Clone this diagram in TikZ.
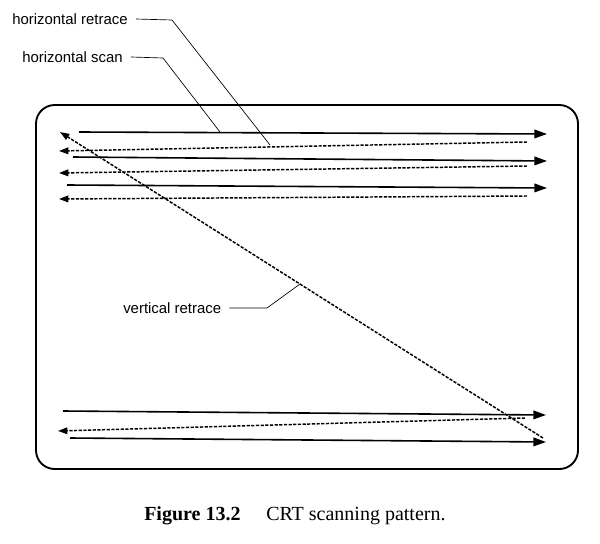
\documentclass[tikz,border=0pt]{standalone}
\usepackage{fontspec}
\setmainfont{Liberation Serif}
\newfontfamily\labfont{Liberation Sans}
\usetikzlibrary{arrows.meta}
\tikzset{
  scanline/.style={line width=1.2pt,-{Triangle[length=9.5pt,width=6.5pt]}},
  retraceline/.style={line width=1.1pt,dash pattern=on 2.4pt off 1.1pt,-{Triangle[length=7pt,width=5pt]}},
  leader/.style={line width=0.5pt},
  lab/.style={font=\labfont\fontsize{11.2}{13}\selectfont,inner sep=0pt,anchor=west},
  frame/.style={line width=1.4pt,rounded corners=14pt},
  captxt/.style={font=\fontsize{15}{18}\selectfont,inner sep=0pt,anchor=base west}
}
\begin{document}
\begin{tikzpicture}[x=0.75pt,y=-0.75pt]
\useasboundingbox (0,0) rectangle (600,543);
\draw[frame] (36,105) rectangle (578,469);
% top group
\coordinate (s1a) at (79,132); \coordinate (s1b) at (547,134);
\coordinate (r1a) at (527,142); \coordinate (r1b) at (59,151);
\coordinate (s2a) at (73,157); \coordinate (s2b) at (547,161);
\coordinate (r2a) at (527,166); \coordinate (r2b) at (59,173);
\coordinate (s3a) at (67,185); \coordinate (s3b) at (547,188);
\coordinate (r3a) at (527,196); \coordinate (r3b) at (59,199);
% bottom group
\coordinate (s4a) at (63,411); \coordinate (s4b) at (546,415);
\coordinate (r4a) at (525,418); \coordinate (r4b) at (58,431);
\coordinate (s5a) at (70,438); \coordinate (s5b) at (546,442);
\coordinate (va) at (543,438); \coordinate (vb) at (60,132);
\draw[scanline] (s1a) -- (s1b);
\draw[retraceline] (r1a) -- (r1b);
\draw[scanline] (s2a) -- (s2b);
\draw[retraceline] (r2a) -- (r2b);
\draw[scanline] (s3a) -- (s3b);
\draw[retraceline] (r3a) -- (r3b);
\draw[scanline] (s4a) -- (s4b);
\draw[retraceline] (r4a) -- (r4b);
\draw[scanline] (s5a) -- (s5b);
\draw[retraceline] (va) -- (vb);
% labels
\node[lab] (hr) at (12,19) {horizontal retrace};
\node[lab] (hs) at (22,57) {horizontal scan};
\node[lab] (vr) at (123,308) {vertical retrace};
\coordinate (hrk) at (172,20); \coordinate (hre) at (270,145);
\coordinate (hsk) at (163,58); \coordinate (hse) at (220,132);
\coordinate (vrk) at (267,308); \coordinate (vre) at (300,284);
\draw[leader] ([xshift=6pt]hr.east) -- (hrk) -- (hre);
\draw[leader] ([xshift=6pt]hs.east) -- (hsk) -- (hse);
\draw[leader] ([xshift=6pt]vr.east) -- (vrk) -- (vre);
% caption
\node[captxt] (cap1) at (144,520) {\bfseries Figure 13.2};
\node[captxt] (cap2) at (266,520) {CRT scanning pattern.};
\end{tikzpicture}
\end{document}
